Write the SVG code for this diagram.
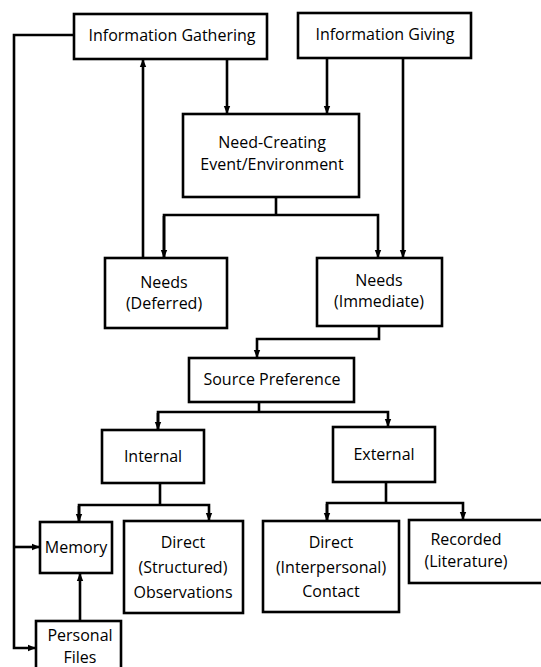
<svg xmlns="http://www.w3.org/2000/svg" width="541" height="667" viewBox="0 0 541 667">
<style>
.box{fill:#fff;stroke:#000;stroke-width:2.6}
.ln{fill:none;stroke:#000;stroke-width:2.6}
text{font-family:"Open Sans","Liberation Sans",sans-serif;font-size:16px;fill:#000;text-anchor:middle}
</style>
<defs>
<marker id="ah" markerUnits="userSpaceOnUse" markerWidth="10" markerHeight="10" viewBox="0 0 10 10" refX="9" refY="5" orient="auto">
<path d="M1,1.8 L9,5 L1,8.2 Z" fill="#000"/>
</marker>
</defs>
<rect width="541" height="667" fill="#fff"/>
<g id="connectors">
<path class="ln" d="M74,35 H14 V648 H36" marker-end="url(#ah)"/>
<path class="ln" d="M14,547 H40" marker-end="url(#ah)"/>
<path class="ln" d="M143,258 V59" marker-end="url(#ah)"/>
<path class="ln" d="M227,59 V114" marker-end="url(#ah)"/>
<path class="ln" d="M327,58 V114" marker-end="url(#ah)"/>
<path class="ln" d="M403,58 V258" marker-end="url(#ah)"/>
<path class="ln" d="M276,197 V215"/>
<path class="ln" d="M164,258 V215 H378 V258" marker-end="url(#ah)"/>
<path class="ln" d="M164,216 V258" marker-end="url(#ah)"/>
<path class="ln" d="M379,326 V339 H257 V358" marker-end="url(#ah)"/>
<path class="ln" d="M259,402 V412"/>
<path class="ln" d="M158,430 V412 H388 V427" marker-end="url(#ah)"/>
<path class="ln" d="M158,413 V430" marker-end="url(#ah)"/>
<path class="ln" d="M160,483 V505"/>
<path class="ln" d="M79,522 V505 H209 V521" marker-end="url(#ah)"/>
<path class="ln" d="M79,506 V522" marker-end="url(#ah)"/>
<path class="ln" d="M386,482 V503"/>
<path class="ln" d="M327,521 V503 H463 V520" marker-end="url(#ah)"/>
<path class="ln" d="M327,504 V521" marker-end="url(#ah)"/>
<path class="ln" d="M80,621 V573" marker-end="url(#ah)"/>
</g>
<g id="info-gathering"><rect class="box" x="74" y="14" width="193" height="45"/><text x="172" y="41">Information Gathering</text></g>
<g id="info-giving"><rect class="box" x="298" y="13" width="173" height="45"/><text x="385" y="40">Information Giving</text></g>
<g id="need-creating"><rect class="box" x="183" y="114" width="176" height="83"/><text x="272" y="148">Need-Creating</text><text x="272" y="170">Event/Environment</text></g>
<g id="needs-deferred"><rect class="box" x="105" y="258" width="122" height="70"/><text x="164" y="288">Needs</text><text x="164" y="309">(Deferred)</text></g>
<g id="needs-immediate"><rect class="box" x="317" y="258" width="125" height="68"/><text x="379" y="286">Needs</text><text x="379" y="307">(Immediate)</text></g>
<g id="source-preference"><rect class="box" x="189" y="358" width="165" height="44"/><text x="272" y="385">Source Preference</text></g>
<g id="internal"><rect class="box" x="102" y="430" width="102" height="53"/><text x="153" y="462">Internal</text></g>
<g id="external"><rect class="box" x="333" y="427" width="102" height="55"/><text x="384" y="460">External</text></g>
<g id="memory"><rect class="box" x="40" y="522" width="72" height="51"/><text x="76" y="553">Memory</text></g>
<g id="direct-structured"><rect class="box" x="124" y="521" width="119" height="92"/><text x="183" y="548">Direct</text><text x="183" y="573">(Structured)</text><text x="183" y="598">Observations</text></g>
<g id="direct-interpersonal"><rect class="box" x="263" y="521" width="136" height="91"/><text x="331" y="548">Direct</text><text x="331" y="573">(Interpersonal)</text><text x="331" y="597">Contact</text></g>
<g id="recorded"><rect class="box" x="409" y="520" width="140" height="63"/><text x="466" y="545">Recorded</text><text x="466" y="567">(Literature)</text></g>
<g id="personal-files"><rect class="box" x="36" y="621" width="85" height="60"/><text x="80" y="641">Personal</text><text x="80" y="663">Files</text></g>
</svg>
